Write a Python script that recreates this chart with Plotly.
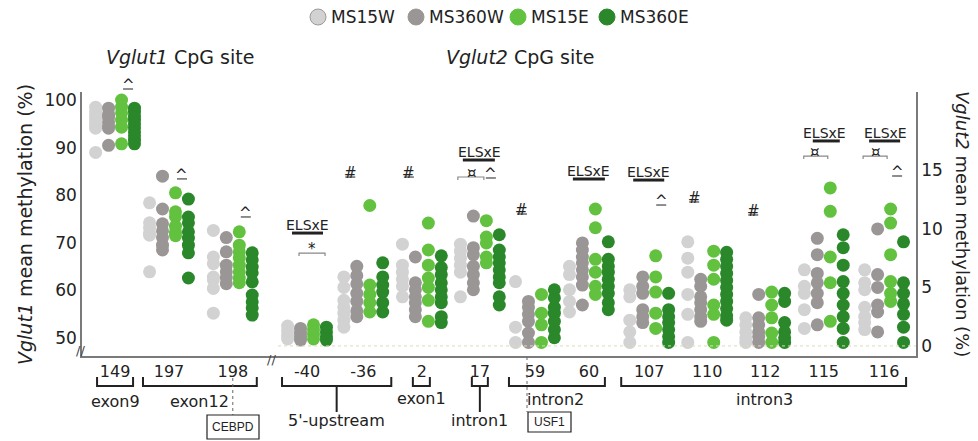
import plotly.graph_objects as go

# ---------------- data ----------------
groups = ["MS15W", "MS360W", "MS15E", "MS360E"]
colors = ["#d2d2d2", "#9b9696", "#62c23f", "#2a882a"]

sites_v1 = ["149", "197", "198"]
sites_v2 = ["-40", "-36", "2", "17", "59", "60", "107", "110", "112", "115", "116"]

ms15w_v1 = [
    [98.5, 97.6, 96.8, 96.0, 95.4, 94.7, 94.1, 89.0],
    [78.4, 74.2, 73.1, 72.0, 71.6, 63.9],
    [72.6, 67.0, 65.6, 62.8, 62.2, 60.4, 55.2],
]
ms360w_v1 = [
    [98.3, 97.0, 96.4, 95.4, 94.6, 94.1, 90.5],
    [84.0, 77.1, 74.0, 72.5, 71.1, 69.5, 68.5],
    [71.1, 68.1, 65.3, 63.9, 62.7, 61.4],
]
ms15e_v1 = [
    [100.0, 98.5, 97.3, 95.8, 94.3, 90.8],
    [80.5, 76.5, 75.5, 73.5, 72.2, 71.5],
    [72.3, 69.5, 68.1, 66.8, 65.3, 63.9, 62.6, 61.6],
]
ms360e_v1 = [
    [98.3, 97.5, 96.6, 95.8, 95.0, 94.2, 93.3, 92.5, 91.6, 90.8],
    [79.2, 75.4, 74.2, 72.3, 71.0, 69.5, 67.9, 62.6],
    [67.9, 66.4, 64.9, 63.7, 61.8, 59.0, 57.6, 56.3, 54.8],
]

ms15w_v2 = [
    [1.7, 1.3, 0.9, 0.6],
    [5.9, 5.0, 3.9, 3.3, 2.8, 2.2, 1.6],
    [8.7, 6.9, 6.3, 5.7, 5.1, 4.2],
    [8.7, 8.1, 7.5, 6.9, 6.3, 4.2],
    [5.5, 1.6, 0.3],
    [6.8, 6.1, 4.8, 3.8, 2.9],
    [4.8, 4.2, 2.2, 1.2, 0.3],
    [8.9, 7.5, 6.3, 4.4, 2.7, 0.3],
    [2.4, 1.8, 1.2, 0.7, 0.3],
    [6.5, 5.1, 4.5, 3.1, 1.5],
    [6.5, 5.4, 4.8, 3.3, 2.5, 2.0, 1.4],
]
ms360w_v2 = [
    [1.5, 1.1, 0.8, 0.5],
    [6.8, 6.0, 5.3, 4.5, 3.8, 3.0, 2.5],
    [7.6, 5.4, 4.8, 4.2, 3.7, 3.1, 2.5],
    [11.1, 8.4, 7.8, 6.8, 6.1, 5.4, 4.8],
    [3.8, 3.3, 2.7, 2.1, 1.1, 0.3],
    [8.8, 8.2, 7.6, 7.1, 6.5, 5.9, 5.2, 3.5],
    [5.9, 5.1, 4.5, 3.1, 2.5, 2.0],
    [5.7, 5.1, 4.2, 3.7, 3.1, 2.5, 2.1],
    [4.4, 2.4, 1.8, 1.2, 0.8, 0.3],
    [9.2, 7.8, 6.2, 5.4, 4.5, 3.7, 1.8],
    [10.0, 6.1, 5.0, 3.5, 2.9, 1.2],
]
ms15e_v2 = [
    [1.8, 1.4, 1.0, 0.6],
    [12.0, 5.2, 4.4, 3.7, 2.9],
    [10.5, 8.2, 6.9, 5.8, 5.0, 3.9, 2.1],
    [10.7, 9.3, 8.8, 7.6, 7.1],
    [4.4, 2.8, 1.8, 0.3],
    [11.7, 10.1, 7.4, 6.3, 5.1, 4.4],
    [7.7, 5.9, 4.6, 2.8, 1.5],
    [8.1, 6.9, 5.7, 3.5, 2.7, 0.3],
    [4.6, 3.5, 2.4, 1.1, 0.3],
    [13.5, 11.5, 7.6, 5.4, 2.1],
    [11.7, 10.5, 7.8, 5.5, 4.5, 3.8],
]
ms360e_v2 = [
    [1.6, 1.2, 0.8, 0.5],
    [7.1, 5.9, 5.2, 4.6, 3.7, 2.9],
    [7.7, 6.7, 6.1, 5.4, 4.8, 4.2, 3.7, 2.5, 2.0],
    [9.5, 8.2, 7.6, 7.1, 6.5, 5.9, 5.4, 4.2, 3.5],
    [4.8, 4.1, 3.3, 2.8, 2.1, 1.4, 0.7],
    [8.9, 7.4, 6.8, 6.3, 5.7, 5.1, 4.5, 3.7, 3.1],
    [4.5, 3.1, 2.5, 2.0, 1.4, 0.8, 0.3],
    [8.0, 7.4, 6.8, 6.2, 5.6, 5.0, 4.4, 3.8, 3.2, 2.6, 2.2],
    [4.5, 3.8, 2.0, 1.2, 0.7, 0.3],
    [9.5, 8.4, 6.9, 5.5, 4.5, 3.5, 2.5, 1.5, 0.3],
    [8.9, 5.4, 4.5, 3.6, 2.7, 1.6, 0.3],
]

# significance labels: (site, symbol, y value on that site's axis)
sig_v1 = [("149", "^", 103.8), ("197", "^", 84.9), ("198", "^", 76.9)]

# ---------------- layout geometry ----------------
W, H = 978, 441
ML, MR, MT, MB = 82, 62, 92, 85
PW, PH = W - ML - MR, H - MT - MB
XR = [0, 14.38]
Y1R = [46.2, 101.7]
Y2R = [-0.86, 21.7]
UNIT = PW / (XR[1] - XR[0])
site_pos = dict(zip(sites_v1 + sites_v2,
                    [0.57, 1.5, 2.6, 3.88, 4.85, 5.86, 6.86, 7.81, 8.74,
                     9.78, 10.78, 11.78, 12.79, 13.83]))
group_off = [-0.335, -0.112, 0.112, 0.335]

FONT = "DejaVu Sans"
TXT = "#222222"


def xp(site, dpx=0.0):
    return (site_pos[site] + dpx / UNIT - XR[0]) / (XR[1] - XR[0])


def xpx(px):
    return (px - ML) / PW


def ypx(py):
    return (H - MB - py) / PH


def y1p(v):
    return (v - Y1R[0]) / (Y1R[1] - Y1R[0])


def y2p(v):
    return (v - Y2R[0]) / (Y2R[1] - Y2R[0])


fig = go.Figure()

v1_sets = [ms15w_v1, ms360w_v1, ms15e_v1, ms360e_v1]
v2_sets = [ms15w_v2, ms360w_v2, ms15e_v2, ms360e_v2]
for g, name in enumerate(groups):
    xs, ys = [], []
    for i, s in enumerate(sites_v1):
        for v in v1_sets[g][i]:
            xs.append(site_pos[s] + group_off[g])
            ys.append(v)
    fig.add_trace(go.Scatter(x=xs, y=ys, mode="markers", name=name, showlegend=False,
                             marker=dict(size=13, color=colors[g], line=dict(width=0)),
                             yaxis="y", cliponaxis=False))
    xs, ys = [], []
    for i, s in enumerate(sites_v2):
        for v in v2_sets[g][i]:
            xs.append(site_pos[s] + group_off[g])
            ys.append(v)
    fig.add_trace(go.Scatter(x=xs, y=ys, mode="markers", name=name, showlegend=False,
                             marker=dict(size=13, color=colors[g], line=dict(width=0)),
                             yaxis="y2", cliponaxis=False))

shapes, ann = [], []


def text(x, y, s, size=15, xanchor="center", yanchor="middle", family=FONT, angle=0, color=TXT):
    ann.append(dict(x=x, y=y, xref="paper", yref="paper", text=s, showarrow=False,
                    xanchor=xanchor, yanchor=yanchor, textangle=angle,
                    font=dict(family=family, size=size, color=color)))


def seg(x0, y0, x1, y1, color=TXT, width=1.5, dash="solid"):
    shapes.append(dict(type="line", xref="paper", yref="paper", x0=x0, y0=y0, x1=x1, y1=y1,
                       line=dict(color=color, width=width, dash=dash)))


def poly(pts, color=TXT, width=2):
    d = "M " + " L ".join(f"{x},{y}" for x, y in pts)
    shapes.append(dict(type="path", xref="paper", yref="paper", path=d,
                       line=dict(color=color, width=width)))


def mark(x, yv, ymap, sym):
    # symbol with a short underline beneath
    y = ymap(yv)
    text(x, y - 3 / PH, sym, size=15)
    seg(x - 5 / PW, y - 7 / PH, x + 5 / PW, y - 7 / PH, color="#444", width=1.2)


def elsxe(site, dpx, yv, l, r):
    y = y2p(yv)
    text(xp(site, dpx), y, "ELSxE", size=14)
    seg(xp(site, l), y - 8 / PH, xp(site, r), y - 8 / PH, color=TXT, width=3)


def bracket_sym(site, sym, dpx, yv, l, r):
    y = y2p(yv)
    text(xp(site, dpx), y - 2 / PH, sym, size=15)
    poly([(xp(site, l), y - 9 / PH), (xp(site, l), y - 6 / PH),
          (xp(site, r), y - 6 / PH), (xp(site, r), y - 9 / PH)], color="#888", width=1.2)


# Vglut1 significance
for s, sym, yv in sig_v1:
    mark(xp(s, 13), yv, y1p, sym)

# Vglut2 significance
elsxe("-40", 0, 10.33, -15, 16)
bracket_sym("-40", "*", 5, 8.45, -8, 18)
mark(xp("-36", -13), 15.03, y2p, "#")
mark(xp("2", -13), 15.03, y2p, "#")
elsxe("17", 0, 16.57, -17, 15)
bracket_sym("17", "¤", -8, 14.95, -22, 4)
mark(xp("17", 11), 14.95, y2p, "^")
mark(xp("59", -13), 11.87, y2p, "#")
elsxe("60", 0, 14.95, -16, 16)
elsxe("107", -1, 14.86, -16, 15)
mark(xp("107", 12), 12.64, y2p, "^")
mark(xp("110", -13), 12.9, y2p, "#")
mark(xp("112", -12), 11.79, y2p, "#")
elsxe("115", 1, 18.2, -11, 16)
bracket_sym("115", "¤", -9, 16.74, -20, 4)
elsxe("116", 1, 18.2, -15, 16)
bracket_sym("116", "¤", -8, 16.74, -21, 3)
mark(xp("116", 13), 15.12, y2p, "^")

# zero line of Vglut2 axis
seg(xpx(278), y2p(0), 1, y2p(0), color="#dedab8", width=1, dash="dot")

# axis breaks
text(xpx(80), ypx(350), "//", size=13, color="#444")
text(xpx(271), ypx(359), "//", size=13, color="#444")

# bottom region brackets
YT, YB = ypx(377), ypx(386)
regions = [
    ("149", -18, "149", 18, "exon9", None),
    ("197", -26, "198", 24, "exon12", None),
    ("-40", -25, "-36", 28, "5'-upstream", "stem"),
    ("2", -9, "2", 8, "exon1", None),
    ("17", -8, "17", 8, "intron1", "stem"),
    ("59", -26, "60", 16, "intron2", None),
    ("107", -28, "116", 22, "intron3", None),
]
label_pos = {"exon9": (xp("149"), 401), "exon12": (xp("197", 31), 401),
             "5'-upstream": (None, 420), "exon1": (xp("2"), 398),
             "intron1": (xp("17"), 420), "intron2": (xp("59", 21), 399),
             "intron3": (xp("107", 115), 399)}
for s0, d0, s1, d1, lab, stem in regions:
    xa, xb = xp(s0, d0), xp(s1, d1)
    poly([(xa, YT), (xa, YB), (xb, YB), (xb, YT)], color=TXT, width=2)
    lx, ly = label_pos[lab]
    if stem:
        xm = (xa + xb) / 2
        seg(xm, YB, xm, ypx(412), color=TXT, width=2)
        lx = xm
    text(lx, ypx(ly), lab, size=16)

# transcription factor boxes
seg(xp("198"), ypx(378), xp("198"), ypx(415), color="#666", width=1, dash="dot")
shapes.append(dict(type="rect", xref="paper", yref="paper", x0=xpx(207), x1=xpx(259),
                   y0=ypx(439), y1=ypx(415), line=dict(color=TXT, width=1.2)))
text((xpx(207) + xpx(259)) / 2, ypx(427), "CEBPD", size=12, family="Liberation Sans")
seg(xpx(527), ypx(357), xpx(527), ypx(412), color="#666", width=1, dash="dot")
shapes.append(dict(type="rect", xref="paper", yref="paper", x0=xpx(528), x1=xpx(571),
                   y0=ypx(432), y1=ypx(412), line=dict(color=TXT, width=1.2)))
text((xpx(528) + xpx(571)) / 2, ypx(422), "USF1", size=12, family="Liberation Sans")

# titles
text(xpx(180), ypx(57), "<i>Vglut1</i> CpG site", size=19)
text(xpx(520), ypx(57), "<i>Vglut2</i> CpG site", size=19)
text(xpx(25), ypx(225), "<i>Vglut1</i> mean methylation (%)", size=19, angle=-90)
text(xpx(963), ypx(224), "<i>Vglut2</i> mean methylation (%)", size=18, angle=90)

# legend (drawn)
leg_x = [318, 416, 518, 607]
for g, name in enumerate(groups):
    cx = leg_x[g]
    shapes.append(dict(type="circle", xref="paper", yref="paper",
                       x0=xpx(cx - 8), x1=xpx(cx + 8), y0=ypx(25), y1=ypx(9),
                       fillcolor=colors[g],
                       line=dict(color="#9a9a9a" if g == 0 else colors[g], width=1)))
    text(xpx(cx + 11), ypx(17), name, size=17, xanchor="left")

fig.update_layout(
    width=W, height=H, margin=dict(l=ML, r=MR, t=MT, b=MB, pad=0),
    paper_bgcolor="white", plot_bgcolor="white", showlegend=False,
    font=dict(family=FONT, color=TXT),
    xaxis=dict(range=XR, showgrid=False, zeroline=False, showline=True,
               linecolor="#7a7a7a", linewidth=1.5, ticks="",
               tickvals=[site_pos[s] for s in sites_v1 + sites_v2],
               ticktext=sites_v1 + sites_v2, tickfont=dict(size=16, color=TXT)),
    yaxis=dict(range=Y1R, showgrid=False, zeroline=False, showline=True,
               linecolor="#7a7a7a", linewidth=1.5, ticks="",
               tickvals=[50, 60, 70, 80, 90, 100], tickfont=dict(size=17, color=TXT)),
    yaxis2=dict(range=Y2R, overlaying="y", side="right", showgrid=False, zeroline=False,
                showline=True, linecolor="#7a7a7a", linewidth=1.5, ticks="",
                tickvals=[0, 5, 10, 15], tickfont=dict(size=17, color=TXT)),
    shapes=shapes, annotations=ann,
)

fig.write_html("out.html")
